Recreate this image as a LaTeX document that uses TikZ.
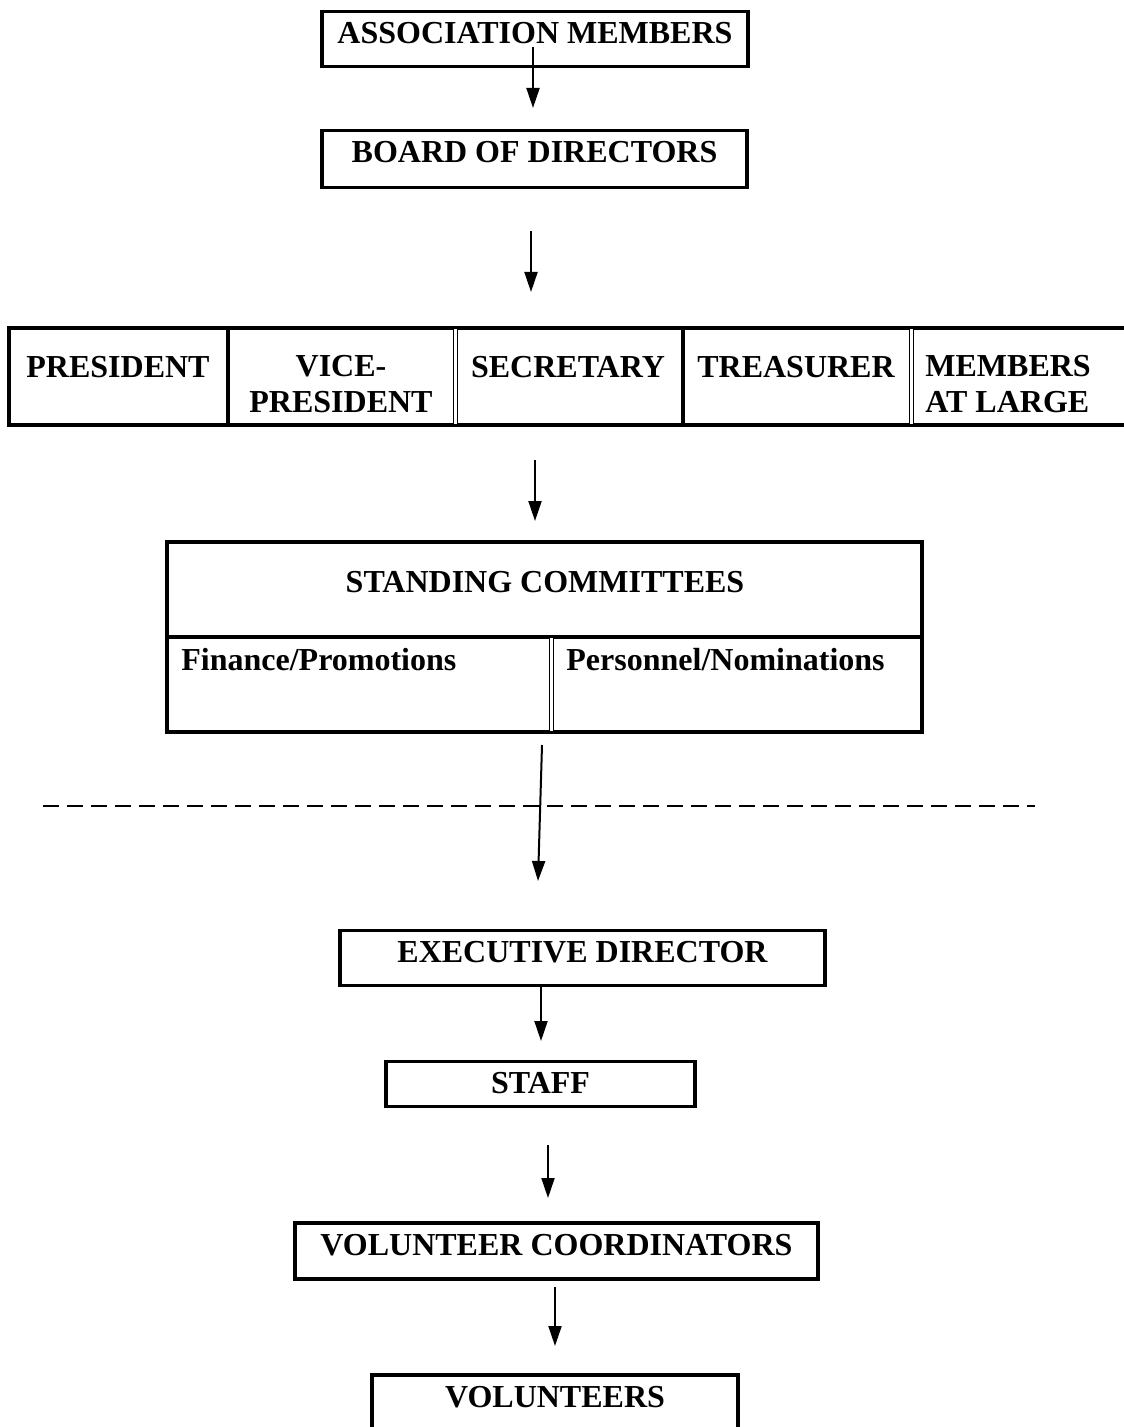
\documentclass[tikz,border=0pt]{standalone}
\usepackage{fontspec}
\setmainfont{Liberation Serif}
\usetikzlibrary{arrows.meta}

\tikzset{
  box/.style={draw,line width=1.9pt,inner sep=0pt,text height=16pt,text depth=11.5pt,
    font=\bfseries\fontsize{16}{18.4}\selectfont,align=center},
  cell/.style={inner sep=0pt,font=\bfseries\fontsize{16}{18.4}\selectfont},
  arr/.style={line width=1pt,-{Triangle[length=10pt,width=6.5pt]}},
  frame/.style={line width=1.9pt},
  twin/.style={double,line width=0.5pt,double distance=1.5pt}
}

\begin{document}
\begin{tikzpicture}[x=0.5pt,y=-0.5pt]
    \useasboundingbox (0,0) rectangle (1123,1427);

    \node[box,minimum width=213pt] (assoc) at (535,39) {ASSOCIATION MEMBERS};
    \node[box,minimum width=212.5pt,text depth=12.5pt] (board) at (534.5,159) {BOARD OF DIRECTORS};

    \draw[frame] (1130,328) -- (9,328) -- (9,425) -- (1130,425);
    \draw[frame] (228,328) -- (228,425);
    \draw[frame] (683,328) -- (683,425);
    \draw[twin] (455,329) -- (455,424);
    \draw[twin] (911,329) -- (911,424);
    \node[cell,anchor=base] (pres) at (118,378) {PRESIDENT};
    \node[cell,anchor=base,align=center] (vice) at (341,413) {VICE-\\PRESIDENT};
    \node[cell,anchor=base] (secr) at (568,378) {SECRETARY};
    \node[cell,anchor=base] (treas) at (796,378) {TREASURER};
    \node[cell,anchor=base west,align=left] (mal) at (925,413) {MEMBERS\\AT LARGE};

    \draw[frame] (167,542) rectangle (922,732);
    \draw[frame] (167,637) -- (922,637);
    \draw[twin] (551,638) -- (551,731);
    \node[cell,anchor=base] (stand) at (545,592) {STANDING COMMITTEES};
    \node[cell,anchor=base west] (fin) at (181,670) {Finance/Promotions};
    \node[cell,anchor=base west] (pers) at (566,670) {Personnel/Nominations};

    \draw[line width=1pt,dash pattern=on 8pt off 4pt] (43,806) -- (1035,806);

    \node[box,minimum width=242.5pt] (exec) at (582.5,958) {EXECUTIVE DIRECTOR};
    \node[box,minimum width=154.5pt,text depth=6.5pt] (staff) at (540.5,1084) {STAFF};
    \node[box,minimum width=261.5pt,text depth=12pt] (volc) at (556.5,1251) {VOLUNTEER COORDINATORS};
    \node[box,minimum width=183pt,text depth=12pt] (vol) at (555,1403) {VOLUNTEERS};

    \coordinate (a1) at (533,47);   \coordinate (b1) at (533,108);
    \coordinate (a2) at (531,231);  \coordinate (b2) at (531,292);
    \coordinate (a3) at (535,460);  \coordinate (b3) at (535,521);
    \coordinate (a4) at (542,745);  \coordinate (b4) at (538,881);
    \coordinate (a5) at (541,985);  \coordinate (b5) at (541,1041);
    \coordinate (a6) at (548,1145); \coordinate (b6) at (548,1198);
    \coordinate (a7) at (555,1287); \coordinate (b7) at (555,1346);

    \draw[arr] (a1) -- (b1);
    \draw[arr] (a2) -- (b2);
    \draw[arr] (a3) -- (b3);
    \draw[arr] (a4) -- (b4);
    \draw[arr] (a5) -- (b5);
    \draw[arr] (a6) -- (b6);
    \draw[arr] (a7) -- (b7);
\end{tikzpicture}
\end{document}
